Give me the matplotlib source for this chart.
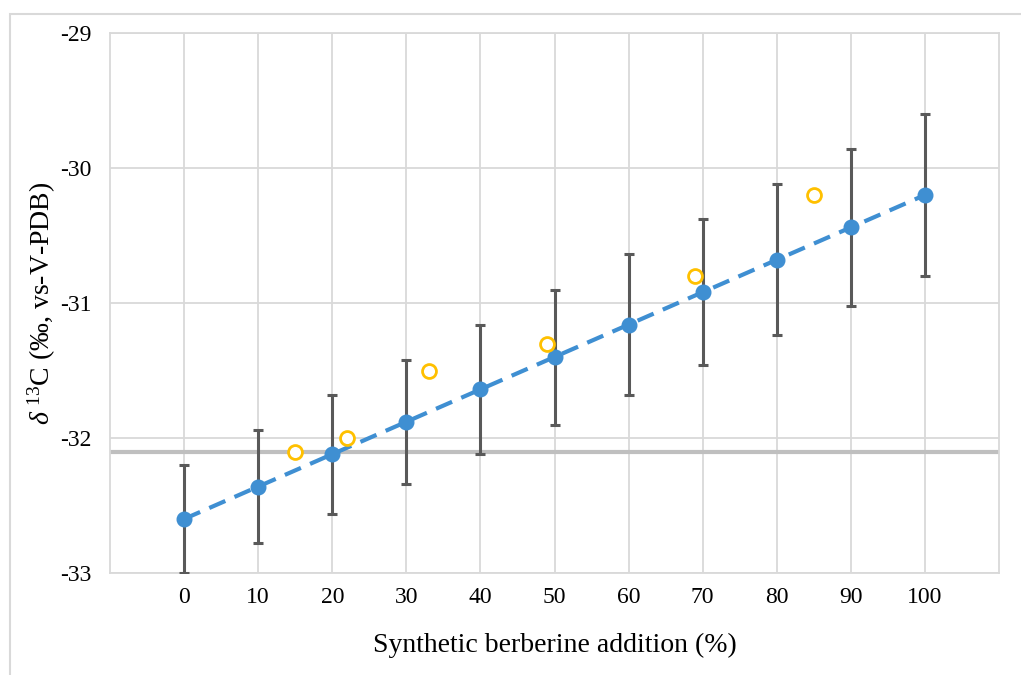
import numpy as np
import matplotlib.pyplot as plt
import matplotlib.patches as mpatches

plt.rcParams['font.family'] = ['Liberation Serif', 'DejaVu Serif']
plt.rcParams['mathtext.fontset'] = 'custom'
plt.rcParams['mathtext.rm'] = 'Liberation Serif'
plt.rcParams['mathtext.it'] = 'Liberation Serif:italic'

# blue series with error bars
addition = [0, 10, 20, 30, 40, 50, 60, 70, 80, 90, 100]
d13c = [-32.60, -32.36, -32.12, -31.88, -31.64, -31.40, -31.16, -30.92, -30.68, -30.44, -30.20]
err = [0.40, 0.42, 0.44, 0.46, 0.48, 0.50, 0.52, 0.54, 0.56, 0.58, 0.60]

# orange hollow circles
samp_x = [15, 22, 33, 49, 69, 85]
samp_y = [-32.10, -32.00, -31.50, -31.30, -30.80, -30.20]

# reference line
ref_level = -32.1

xticks = [0, 10, 20, 30, 40, 50, 60, 70, 80, 90, 100]
yticks = [-33, -32, -31, -30, -29]

grid_col = '#d9d9d9'

fig = plt.figure(figsize=(10.21, 6.75), dpi=100)
ax = fig.add_axes([110/1021, 1-573/675, (999-110)/1021, (573-33)/675])

# outer chart frame
fig.patches.append(mpatches.Rectangle((10/1021, -0.1), 1.2, 1-14/675+0.1,
                                      transform=fig.transFigure, fill=False,
                                      edgecolor=grid_col, linewidth=1.5, zorder=0))

ax.axhline(ref_level, color='#bfbfbf', linewidth=3, zorder=2)

ax.errorbar(addition, d13c, yerr=err, fmt='none', ecolor='#595959',
            elinewidth=2.2, capsize=3.5, capthick=2.2, zorder=3)
ax.plot(addition, d13c, linestyle=(0, (4.2, 2.4)), color='#3f8fd2', linewidth=3,
        marker='o', markersize=10.5, markerfacecolor='#3f8fd2', markeredgecolor='#3f8fd2',
        zorder=4, clip_on=False)
ax.plot(samp_x, samp_y, linestyle='none', marker='o', markersize=10,
        markerfacecolor='white', markeredgecolor='#ffc000', markeredgewidth=2, zorder=5)

ax.set_xlim(-10, 110)
ax.set_ylim(-33, -29)
ax.set_xticks(xticks)
ax.set_yticks(yticks)
ax.set_yticklabels([str(v) for v in yticks])
ax.grid(True, color=grid_col, linewidth=1.3)
ax.set_axisbelow(True)
for s in ax.spines.values():
    s.set_color(grid_col)
    s.set_linewidth(1.3)
ax.tick_params(length=0, labelsize=17, colors='black')
ax.tick_params(axis='x', pad=10)
ax.tick_params(axis='y', pad=13)

ax.set_xlabel('Synthetic berberine addition (%)', fontsize=20, labelpad=18)
ax.set_ylabel(r'$\delta\ ^{13}$C (‰, vs-V-PDB)', fontsize=20, labelpad=2)

fig.savefig('out.png', dpi=100)
